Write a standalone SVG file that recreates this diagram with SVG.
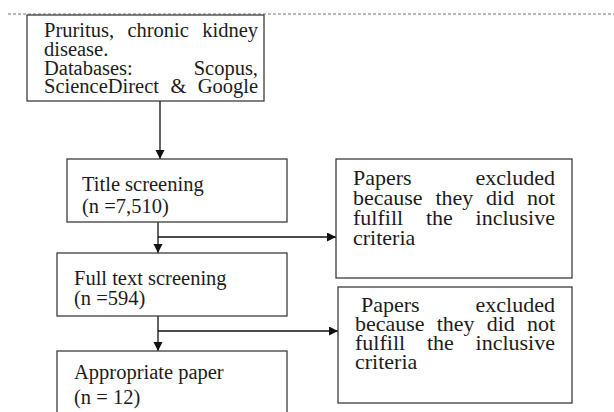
<svg xmlns="http://www.w3.org/2000/svg" width="614" height="412" viewBox="0 0 614 412">
<style>
.box{fill:#fff;stroke:#3c3c3c;stroke-width:1.3}
.t{font-family:"Liberation Serif","Times New Roman",serif;font-size:20.5px;fill:#1c1c1c}
.p{font-size:22px}
.e{text-anchor:end}
.c{fill:none;stroke:#111;stroke-width:1.3}
.dash{stroke:#777;stroke-width:1;stroke-dasharray:3 2}
</style>
<defs>
<marker id="ah" markerUnits="userSpaceOnUse" markerWidth="10" markerHeight="10" refX="9" refY="4.5" orient="auto">
<path d="M0,0 L9,4.5 L0,9 z" fill="#111"/>
</marker>
</defs>
<rect width="614" height="412" fill="#fff"/>
<line class="dash" x1="8" y1="14" x2="614" y2="14"/>
<g id="connectors">
<line class="c" x1="160" y1="101" x2="160" y2="159" marker-end="url(#ah)"/>
<line class="c" x1="158" y1="222" x2="158" y2="253" marker-end="url(#ah)"/>
<line class="c" x1="158" y1="237" x2="336" y2="237" marker-end="url(#ah)"/>
<line class="c" x1="158" y1="316" x2="158" y2="351" marker-end="url(#ah)"/>
<line class="c" x1="158" y1="331" x2="338" y2="331" marker-end="url(#ah)"/>
</g>
<g id="search">
<rect class="box" x="27" y="15" width="237" height="86"/>
<text class="t" x="44" y="37">Pruritus,</text>
<text class="t" x="127.4" y="37">chronic</text>
<text class="t e" x="258" y="37">kidney</text>
<text class="t" x="44" y="55.5">disease.</text>
<text class="t" x="44" y="74.5">Databases:</text>
<text class="t e" x="258" y="74.5">Scopus,</text>
<text class="t" x="44" y="93">ScienceDirect</text>
<text class="t" x="170.4" y="93">&amp;</text>
<text class="t e" x="258" y="93">Google</text>
</g>
<g id="title">
<rect class="box" x="67" y="159" width="220" height="63"/>
<text class="t" x="82" y="191">Title screening</text>
<text class="t" x="82" y="213">(n =7,510)</text>
</g>
<g id="excluded1">
<rect class="box" x="336" y="159" width="236" height="119"/>
<text class="t p" x="353" y="185">Papers</text>
<text class="t p e" x="555" y="185">excluded</text>
<text class="t p" x="353" y="205">because</text>
<text class="t p" x="435.4" y="205">they</text>
<text class="t p" x="486.1" y="205">did</text>
<text class="t p e" x="555" y="205">not</text>
<text class="t p" x="353" y="225">fulfill</text>
<text class="t p" x="425.9" y="225">the</text>
<text class="t p e" x="555" y="225">inclusive</text>
<text class="t p" x="353" y="245">criteria</text>
</g>
<g id="fulltext">
<rect class="box" x="57" y="253" width="230" height="63"/>
<text class="t" x="74" y="285">Full text screening</text>
<text class="t" x="74" y="305">(n =594)</text>
</g>
<g id="excluded2">
<rect class="box" x="338" y="287" width="234" height="116"/>
<text class="t p" x="361" y="312">Papers</text>
<text class="t p e" x="555" y="312">excluded</text>
<text class="t p" x="355" y="331">because</text>
<text class="t p" x="436.7" y="331">they</text>
<text class="t p" x="486.7" y="331">did</text>
<text class="t p e" x="555" y="331">not</text>
<text class="t p" x="355" y="350">fulfill</text>
<text class="t p" x="426.9" y="350">the</text>
<text class="t p e" x="555" y="350">inclusive</text>
<text class="t p" x="355" y="369">criteria</text>
</g>
<g id="appropriate">
<rect class="box" x="57" y="351" width="230" height="80"/>
<text class="t" x="74" y="379">Appropriate paper</text>
<text class="t" x="74" y="404">(n = 12)</text>
</g>
</svg>
